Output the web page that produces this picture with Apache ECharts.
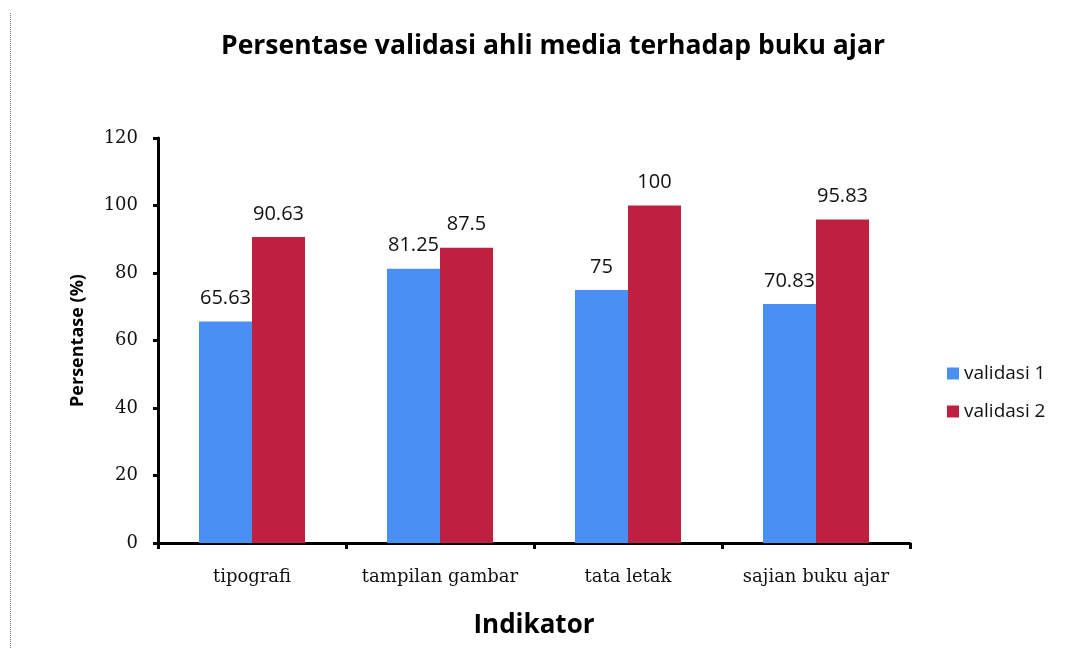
<!DOCTYPE html>
<html>
<head>
<meta charset="utf-8">
<script src="https://cdn.jsdelivr.net/npm/echarts@6/dist/echarts.min.js"></script>
<style>
  html, body { margin: 0; padding: 0; background: #fff; }
  #chart { width: 1082px; height: 648px; }
</style>
</head>
<body>
<div id="chart"></div>
<script>
const categories = ['tipografi', 'tampilan gambar', 'tata letak', 'sajian buku ajar'];
const validasi1 = [65.63, 81.25, 75, 70.83];
const validasi2 = [90.63, 87.5, 100, 95.83];
const seriesNames = ['validasi 1', 'validasi 2'];

const chart = echarts.init(document.getElementById('chart'));

const sansFont = 'Open Sans, Noto Sans, sans-serif';
const serifFont = 'DejaVu Serif, Liberation Serif, serif';

const labelStyle = {
  show: true,
  position: 'top',
  distance: 13,
  fontFamily: sansFont,
  fontSize: 20,
  color: '#111'
};

chart.setOption({
  animation: false,
  backgroundColor: '#ffffff',
  title: {
    text: 'Persentase validasi ahli media terhadap buku ajar',
    left: 553,
    textAlign: 'center',
    top: 33,
    padding: 0,
    textStyle: {
      fontFamily: sansFont,
      fontWeight: 'bold',
      fontSize: 26.5,
      color: '#000'
    }
  },
  legend: {
    orient: 'vertical',
    left: 947,
    top: 364,
    padding: 0,
    itemWidth: 12,
    itemHeight: 12,
    itemGap: 19,
    icon: 'rect',
    textStyle: {
      fontFamily: sansFont,
      fontSize: 19,
      color: '#111'
    },
    data: seriesNames
  },
  grid: { left: 158, right: 172, top: 138, bottom: 105, outerBoundsMode: 'none', containLabel: false },
  xAxis: {
    type: 'category',
    data: categories,
    name: 'Indikator',
    nameLocation: 'middle',
    nameGap: 70,
    nameTextStyle: {
      fontFamily: sansFont,
      fontWeight: 'bold',
      fontSize: 26,
      color: '#000'
    },
    axisLine: { lineStyle: { color: '#000', width: 3 } },
    axisTick: { show: true, interval: 0, length: 6, lineStyle: { color: '#000', width: 3 } },
    axisLabel: {
      interval: 0,
      margin: 25,
      fontFamily: serifFont,
      fontSize: 18,
      color: '#111'
    }
  },
  yAxis: {
    type: 'value',
    min: 0,
    max: 120,
    interval: 20,
    name: 'Persentase (%)',
    nameLocation: 'middle',
    nameGap: 71,
    nameTextStyle: {
      fontFamily: sansFont,
      fontWeight: 'bold',
      fontSize: 18,
      color: '#000'
    },
    axisLine: { show: true, lineStyle: { color: '#000', width: 3 } },
    axisTick: { show: true, length: 5, lineStyle: { color: '#000', width: 3 } },
    splitLine: { show: false },
    axisLabel: {
      margin: 20,
      fontFamily: serifFont,
      fontSize: 18,
      color: '#111'
    }
  },
  series: [
    {
      name: seriesNames[0],
      type: 'bar',
      data: validasi1,
      barWidth: 53,
      barGap: '0%',
      itemStyle: { color: '#4A8FF3' },
      label: labelStyle
    },
    {
      name: seriesNames[1],
      type: 'bar',
      data: validasi2,
      barWidth: 53,
      barGap: '0%',
      itemStyle: { color: '#C02040' },
      label: labelStyle
    }
  ],
  graphic: [
    {
      type: 'line',
      shape: { x1: 10.5, y1: 13, x2: 10.5, y2: 648 },
      style: { stroke: '#777', lineWidth: 1, lineDash: [1, 1] },
      silent: true
    }
  ]
});
</script>
</body>
</html>
